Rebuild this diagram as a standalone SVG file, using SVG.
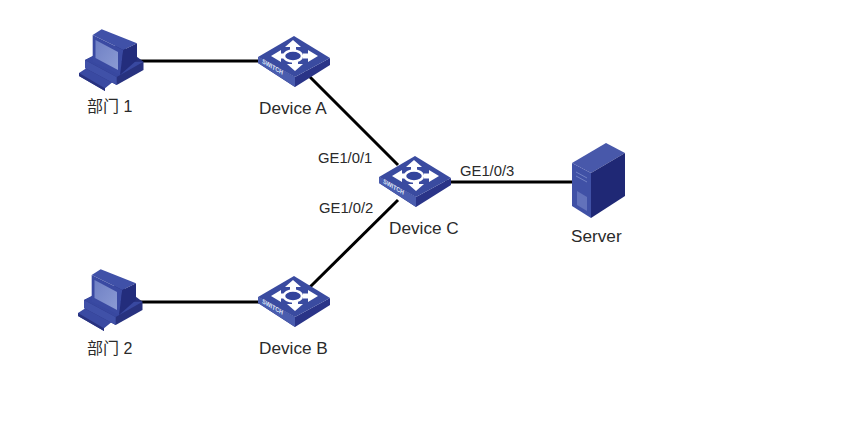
<svg xmlns="http://www.w3.org/2000/svg" width="847" height="428" viewBox="0 0 847 428">
<style>
text{font-family:"Liberation Sans","Noto Sans CJK SC",sans-serif;fill:#2a2a2a}
.n{font-size:17.200px}.p{font-size:14.800px}.z{font-size:16px}
.c line{stroke:#000;stroke-width:3}
</style>
<defs>
<linearGradient id="scr" x1="0" y1="0" x2="1" y2="1"><stop offset="0" stop-color="#6f80c4"/><stop offset="1" stop-color="#8b9bd4"/></linearGradient>
<g id="sw">
<path d="M-36 0L1 20L36 1V8L1 30L-36 6Z" fill="#2a3488"/>
<path d="M-36 0L1 20V30L-36 6Z" fill="#4a5cae"/>
<path d="M-36 0L0 -21L36 1L1 20Z" fill="#3a4ba0"/>
<g fill="#fff">
<path d="M-1 -17L7 -10H2V-5H-4V-10H-9Z"/>
<path d="M1 14L9 7H4V4H-2V7H-7Z"/>
<path d="M-23 -1L-13 -7V-3.500H-8V1.500H-13V5Z"/>
<path d="M24 -1L14 -7V-3.500H9V1.500H14V5Z"/>
</g>
<ellipse cx="-1" cy="-1" rx="9" ry="5.500" fill="#33449c" stroke="#fff" stroke-width="2.500"/>
<text transform="translate(-32 6) rotate(30) skewX(20)" font-size="6" font-weight="bold" style="fill:#dfe4f5">SWITCH</text>
</g>
<g id="pc">
<path d="M79 73L86.700 68L113 81.700L105 88.300V91L79 76Z" fill="#3a4aa2"/>
<path d="M79 76V73L105 88.300V91Z" fill="#28327f"/>
<path d="M85 60L120 44L143.500 61.700V70L116.700 85L85 68Z" fill="#28327f"/>
<path d="M85 60L100 52L120 62L143.500 61.700L116.700 77Z" fill="#3848a0"/>
<path d="M85 60L116.700 77V85L85 68Z" fill="#4051a8"/>
<path d="M92.700 35L101.700 29.300L137 43.300L123.300 50Z" fill="#4051a8"/>
<path d="M92.700 35L123.300 50L120 75L92.700 61.700Z" fill="#3a4aa2"/>
<path d="M123.300 50L137 43.300V60L120 75Z" fill="#232d7c"/>
<path d="M95.500 40L118 52V70L95.500 58Z" fill="url(#scr)"/>
</g>
<g id="srv">
<path d="M0 20L34 0L53 10L19 30Z" fill="#4858aa"/>
<path d="M0 20L19 30V75L0 63Z" fill="#4051a6"/>
<path d="M19 30L53 10V53L19 75Z" fill="#1f2875"/>
<path d="M4 29L15 35M4 33L15 39" stroke="#7181c4" stroke-width="1"/>
<path d="M5 48L15 54V68L5 62Z" fill="#6272bb"/>
</g>
</defs>
<g id="connectors" class="c">
<line x1="130" y1="61" x2="262" y2="61"/>
<line x1="305" y1="72" x2="398" y2="165"/>
<line x1="130" y1="302" x2="262" y2="302"/>
<line x1="310" y1="287" x2="398" y2="200"/>
<line x1="445" y1="182" x2="575" y2="182"/>
</g>
<g id="pc1"><use href="#pc"/><text class="z" x="87" y="112">部门 1</text></g>
<g id="pc2"><use href="#pc" x="-1" y="240"/><text class="z" x="87" y="354">部门 2</text></g>
<g id="deviceA"><use href="#sw" x="294" y="57"/><text class="n" x="259" y="113.500">Device A</text></g>
<g id="deviceB"><use href="#sw" x="294" y="297"/><text class="n" x="259" y="353.500">Device B</text></g>
<g id="deviceC"><use href="#sw" x="415" y="177"/><text class="n" x="389" y="233.500">Device C</text></g>
<g id="server"><use href="#srv" x="572" y="143"/><text class="n" x="571" y="241.500">Server</text></g>
<g id="labels">
<text class="p" x="318" y="163">GE1/0/1</text>
<text class="p" x="319" y="213">GE1/0/2</text>
<text class="p" x="460" y="176">GE1/0/3</text>
</g>
</svg>
